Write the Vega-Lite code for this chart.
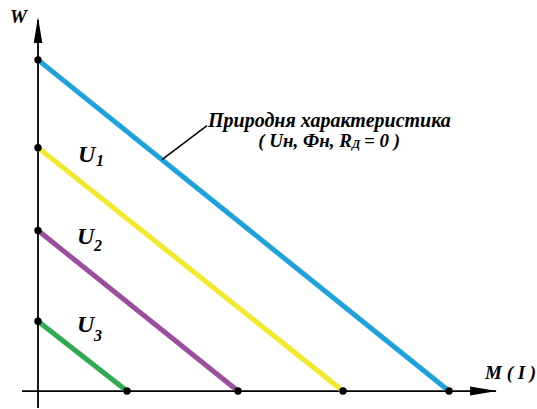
{
  "$schema": "https://vega.github.io/schema/vega-lite/v6.json",
  "width": 537,
  "height": 409,
  "padding": 0,
  "autosize": {"type": "fit", "contains": "padding"},
  "background": "white",
  "config": {"view": {"stroke": null}},
  "datasets": {
    "curves": [
      {"series": "natural", "M": 0, "W": 3.32},
      {"series": "natural", "M": 4.11, "W": 0},
      {"series": "U1", "M": 0, "W": 2.44},
      {"series": "U1", "M": 3.05, "W": 0},
      {"series": "U2", "M": 0, "W": 1.61},
      {"series": "U2", "M": 2.0, "W": 0},
      {"series": "U3", "M": 0, "W": 0.70},
      {"series": "U3", "M": 0.89, "W": 0}
    ],
    "axisLines": [
      {"axis": "W", "x1": 0, "x2": 0, "y1": -0.17, "y2": 3.72},
      {"axis": "M", "x1": -0.16, "x2": 4.58, "y1": 0, "y2": 0}
    ],
    "arrows": [
      {"axis": "W", "x": 0, "y": 3.62},
      {"axis": "M", "x": 4.455, "y": 0}
    ],
    "leader": [
      {"M": 1.24, "W": 2.32},
      {"M": 1.69, "W": 2.66}
    ],
    "bigLabels": [
      {"x": 0.40, "y": 2.30, "text": "U"},
      {"x": 0.39, "y": 1.47, "text": "U"},
      {"x": 0.39, "y": 0.59, "text": "U"}
    ],
    "subLabels": [
      {"x": 0.58, "y": 2.26, "text": "1"},
      {"x": 0.56, "y": 1.40, "text": "2"},
      {"x": 0.56, "y": 0.50, "text": "3"}
    ],
    "titles": [
      {"x": -0.28, "y": 3.69, "text": "W"},
      {"x": 4.47, "y": 0.12, "text": "M ( I )"}
    ]
  },
  "layer": [
    {
      "data": {"name": "axisLines"},
      "mark": {"type": "rule", "color": "black", "strokeWidth": 1.8},
      "encoding": {
        "x": {"field": "x1", "type": "quantitative", "scale": {"domain": [-0.38, 4.99], "nice": false, "zero": false}, "axis": null},
        "x2": {"field": "x2"},
        "y": {"field": "y1", "type": "quantitative", "scale": {"domain": [-0.17, 3.92], "nice": false, "zero": false}, "axis": null},
        "y2": {"field": "y2"}
      }
    },
    {
      "data": {"name": "arrows"},
      "transform": [{"filter": "datum.axis === 'W'"}],
      "mark": {"type": "point", "shape": "M0,-1L0.33,1L-0.33,1Z", "size": 676, "filled": true, "color": "black", "opacity": 1},
      "encoding": {
        "x": {"field": "x", "type": "quantitative"},
        "y": {"field": "y", "type": "quantitative"}
      }
    },
    {
      "data": {"name": "arrows"},
      "transform": [{"filter": "datum.axis === 'M'"}],
      "mark": {"type": "point", "shape": "M1,0L-1,-0.33L-1,0.33Z", "size": 729, "filled": true, "color": "black", "opacity": 1},
      "encoding": {
        "x": {"field": "x", "type": "quantitative"},
        "y": {"field": "y", "type": "quantitative"}
      }
    },
    {
      "data": {"name": "curves"},
      "mark": {"type": "line", "strokeWidth": 5, "strokeCap": "butt"},
      "encoding": {
        "x": {"field": "M", "type": "quantitative"},
        "y": {"field": "W", "type": "quantitative"},
        "detail": {"field": "series"},
        "color": {
          "field": "series",
          "type": "nominal",
          "scale": {"domain": ["natural", "U1", "U2", "U3"], "range": ["#1ea2dc", "#f3e92b", "#9a4f9e", "#2faa50"]},
          "legend": null
        }
      }
    },
    {
      "data": {"name": "leader"},
      "mark": {"type": "line", "color": "black", "strokeWidth": 1.5},
      "encoding": {
        "x": {"field": "M", "type": "quantitative"},
        "y": {"field": "W", "type": "quantitative"}
      }
    },
    {
      "data": {"name": "curves"},
      "mark": {"type": "point", "filled": true, "color": "black", "size": 55, "opacity": 1},
      "encoding": {
        "x": {"field": "M", "type": "quantitative"},
        "y": {"field": "W", "type": "quantitative"}
      }
    },
    {
      "data": {"name": "bigLabels"},
      "mark": {"type": "text", "font": "Liberation Serif", "fontStyle": "italic", "fontWeight": "bold", "fontSize": 24, "align": "left", "baseline": "alphabetic", "color": "black"},
      "encoding": {
        "x": {"field": "x", "type": "quantitative"},
        "y": {"field": "y", "type": "quantitative"},
        "text": {"field": "text"}
      }
    },
    {
      "data": {"name": "subLabels"},
      "mark": {"type": "text", "font": "Liberation Serif", "fontStyle": "italic", "fontWeight": "bold", "fontSize": 16, "align": "left", "baseline": "alphabetic", "color": "black"},
      "encoding": {
        "x": {"field": "x", "type": "quantitative"},
        "y": {"field": "y", "type": "quantitative"},
        "text": {"field": "text"}
      }
    },
    {
      "data": {"name": "titles"},
      "mark": {"type": "text", "font": "Liberation Serif", "fontStyle": "italic", "fontWeight": "bold", "fontSize": 19, "align": "left", "baseline": "alphabetic", "color": "black"},
      "encoding": {
        "x": {"field": "x", "type": "quantitative"},
        "y": {"field": "y", "type": "quantitative"},
        "text": {"field": "text"}
      }
    },
    {
      "data": {"values": [{"x": 1.70, "y": 2.65, "text": "Природня характеристика"}]},
      "mark": {"type": "text", "font": "Liberation Serif", "fontStyle": "italic", "fontWeight": "bold", "fontSize": 20, "align": "left", "baseline": "alphabetic", "color": "black"},
      "encoding": {
        "x": {"field": "x", "type": "quantitative"},
        "y": {"field": "y", "type": "quantitative"},
        "text": {"field": "text"}
      }
    },
    {
      "data": {"values": [{"x": 3.14, "y": 2.45, "text": "( Uн, Фн, R"}]},
      "mark": {"type": "text", "font": "Liberation Serif", "fontStyle": "italic", "fontWeight": "bold", "fontSize": 19, "align": "right", "baseline": "alphabetic", "color": "black"},
      "encoding": {
        "x": {"field": "x", "type": "quantitative"},
        "y": {"field": "y", "type": "quantitative"},
        "text": {"field": "text"}
      }
    },
    {
      "data": {"values": [{"x": 3.14, "y": 2.44, "text": "Д"}]},
      "mark": {"type": "text", "font": "Liberation Serif", "fontStyle": "italic", "fontWeight": "bold", "fontSize": 12, "align": "left", "baseline": "alphabetic", "color": "black"},
      "encoding": {
        "x": {"field": "x", "type": "quantitative"},
        "y": {"field": "y", "type": "quantitative"},
        "text": {"field": "text"}
      }
    },
    {
      "data": {"values": [{"x": 3.26, "y": 2.45, "text": "= 0 )"}]},
      "mark": {"type": "text", "font": "Liberation Serif", "fontStyle": "italic", "fontWeight": "bold", "fontSize": 19, "align": "left", "baseline": "alphabetic", "color": "black"},
      "encoding": {
        "x": {"field": "x", "type": "quantitative"},
        "y": {"field": "y", "type": "quantitative"},
        "text": {"field": "text"}
      }
    }
  ]
}
